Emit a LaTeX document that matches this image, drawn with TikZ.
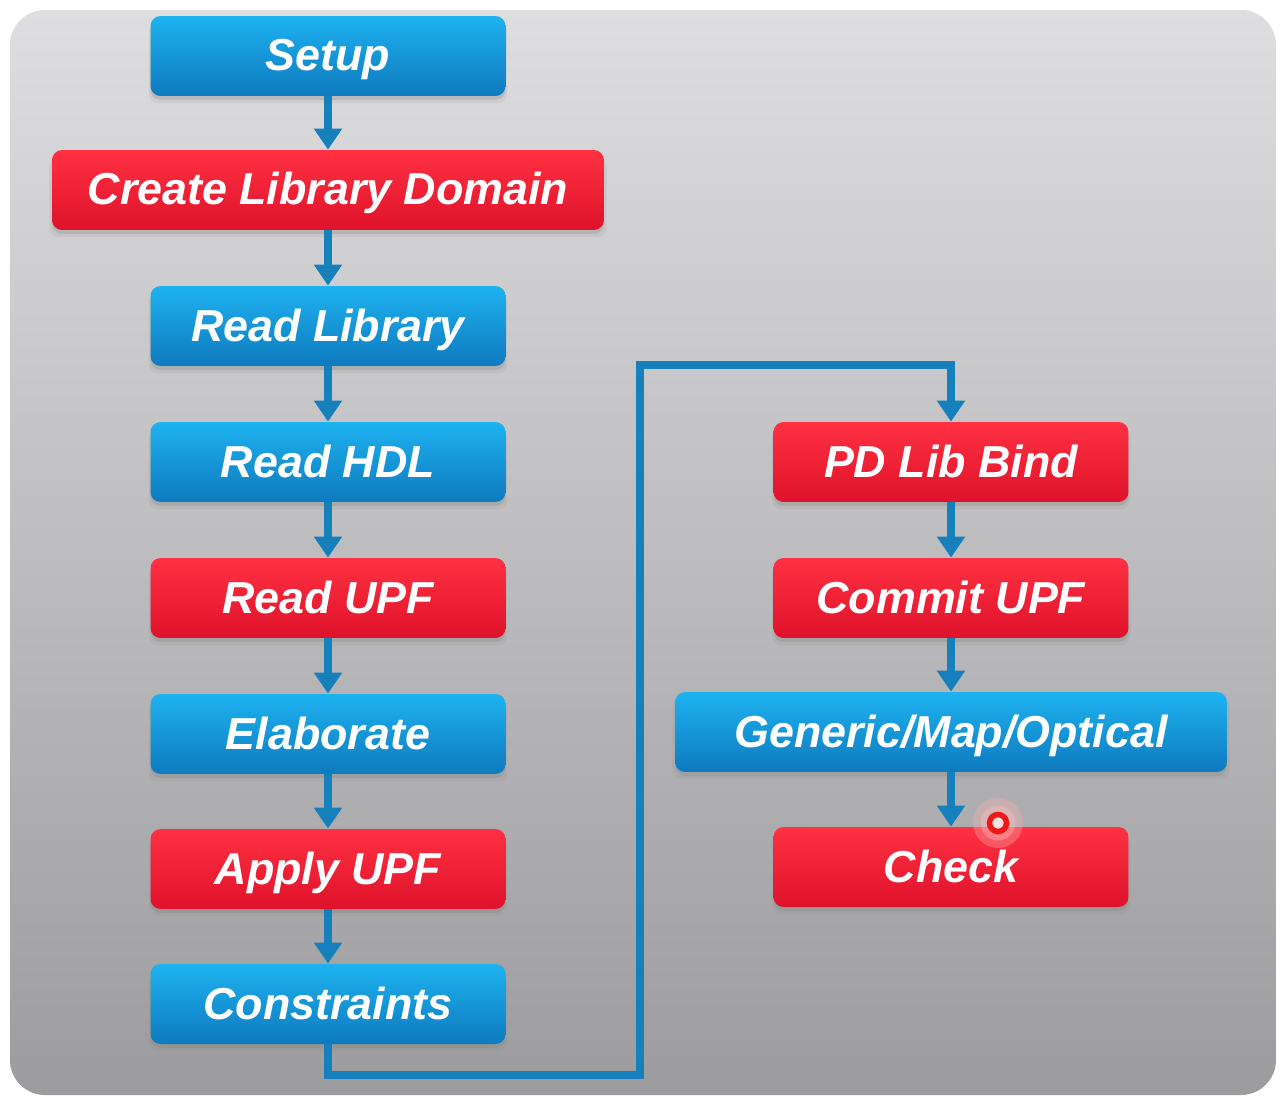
\documentclass[tikz,border=0pt]{standalone}
\usepackage{fontspec}
\setmainfont{Liberation Sans}
\usetikzlibrary{arrows.meta,shadows}
\definecolor{flowblue}{RGB}{22,128,188}
\definecolor{bluetop}{RGB}{30,178,240}
\definecolor{bluemid}{RGB}{20,150,215}
\definecolor{bluebot}{RGB}{14,122,190}
\definecolor{redtop}{RGB}{255,48,66}
\definecolor{redmid}{RGB}{246,28,52}
\definecolor{redbot}{RGB}{222,18,42}
\definecolor{bgtop}{RGB}{222,222,224}
\definecolor{bgbot}{RGB}{156,156,158}
\definecolor{cursorred}{RGB}{238,24,24}
\begin{document}
\begin{tikzpicture}[x=0.02cm,y=-0.02cm,
  stepbox/.style={rounded corners=0.2cm, minimum height=1.6cm, inner sep=0pt,
    text height=0.6cm, text depth=0cm,
    text=white, font=\fontsize{25.5}{28}\selectfont\bfseries\itshape,
    drop shadow={shadow xshift=0pt, shadow yshift=-0.14cm, shadow scale=1.01, opacity=0.12},
    drop shadow={shadow xshift=0pt, shadow yshift=-0.08cm, opacity=0.25}},
  bluebox/.style={stepbox, top color=bluetop, middle color=bluemid, bottom color=bluebot},
  redbox/.style={stepbox, top color=redtop, middle color=redmid, bottom color=redbot},
  narrow/.style={minimum width=7.1cm},
  wide/.style={minimum width=11.04cm},
  flow/.style={draw=flowblue, line width=0.15cm, line join=miter,
    -{Triangle[width=0.54cm,length=0.42cm]}}
]
\useasboundingbox (0,0) rectangle (1286,1099);
\fill[white] (0,0) rectangle (1286,1099);
% grey panel
\shade[top color=bgtop, bottom color=bgbot, rounded corners=0.7cm]
  (10,10) rectangle (1276,1095);

% left column
\node[bluebox,narrow] (setup) at (328,56)  {Setup};
\node[redbox,wide]    (cld)   at (328,190) {Create Library Domain};
\node[bluebox,narrow] (rlib)  at (328,326) {Read Library};
\node[bluebox,narrow] (rhdl)  at (328,462) {Read HDL};
\node[redbox,narrow]  (rupf)  at (328,598) {Read UPF};
\node[bluebox,narrow] (elab)  at (328,734) {Elaborate};
\node[redbox,narrow]  (aupf)  at (328,869) {Apply UPF};
\node[bluebox,narrow] (cons)  at (328,1004) {Constraints};

% right column
\node[redbox,narrow]  (pdlb)  at (951,462) {PD Lib Bind};
\node[redbox,narrow]  (cupf)  at (951,598) {Commit UPF};
\node[bluebox,wide]   (gmo)   at (951,732) {Generic/Map/Optical};
\node[redbox,narrow]  (check) at (951,867) {Check};

% connectors
\draw[flow] (setup.south) -- (cld.north);
\draw[flow] (cld.south) -- (rlib.north);
\draw[flow] (rlib.south) -- (rhdl.north);
\draw[flow] (rhdl.south) -- (rupf.north);
\draw[flow] (rupf.south) -- (elab.north);
\draw[flow] (elab.south) -- (aupf.north);
\draw[flow] (aupf.south) -- (cons.north);
\coordinate (lowturn) at (640,1075);
\coordinate (highturn) at (640,365);
\draw[flow] (cons.south) |- (lowturn) -- (highturn) -| (pdlb.north);
\draw[flow] (pdlb.south) -- (cupf.north);
\draw[flow] (cupf.south) -- (gmo.north);
\draw[flow] (gmo.south) -- (check.north);

% pointer marker
\fill[cursorred!35, opacity=0.35] (998,823) circle (0.5cm);
\fill[cursorred!25, opacity=0.35] (998,823) circle (0.35cm);
\fill[red!12] (998,823) circle (0.12cm);
\draw[cursorred, line width=0.11cm] (998,823) circle (0.17cm);
\end{tikzpicture}
\end{document}
